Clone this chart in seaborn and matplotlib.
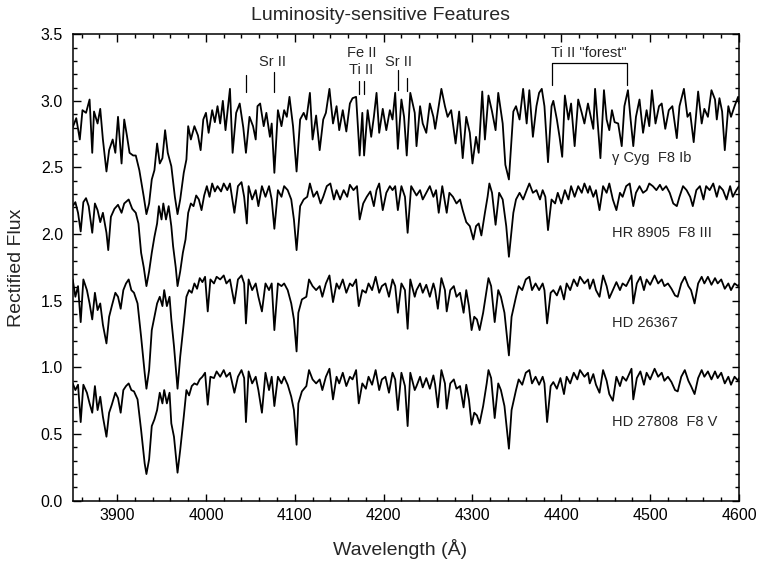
import matplotlib
matplotlib.use("Agg")
import matplotlib.pyplot as plt
from matplotlib.ticker import MultipleLocator, FormatStrFormatter
import pandas as pd
import seaborn as sns

# ---------------------------------------------------------------------------
# Spectra (rectified flux, stacked with vertical offsets as displayed)
# ---------------------------------------------------------------------------
wl_gcyg = [
    3850, 3854, 3858, 3861, 3865, 3869, 3872, 3874, 3878, 3881, 3884, 3888,
    3891, 3895, 3898, 3901, 3905, 3908, 3911, 3914, 3918, 3921, 3925, 3930,
    3933, 3936, 3939, 3942, 3945, 3948, 3951, 3954, 3957, 3961, 3965, 3968,
    3971, 3975, 3978, 3980, 3983, 3987, 3991, 3994, 3997, 4000, 4003, 4007,
    4010, 4013, 4016, 4019, 4022, 4027, 4030, 4034, 4038, 4042, 4045, 4049,
    4053, 4056, 4058, 4061, 4065, 4068, 4072, 4074, 4077, 4081, 4085, 4088,
    4091, 4094, 4098, 4102, 4106, 4110, 4113, 4117, 4120, 4124, 4128, 4132,
    4135, 4139, 4143, 4147, 4150, 4154, 4158, 4162, 4165, 4169, 4173, 4176,
    4178, 4182, 4186, 4189, 4192, 4195, 4199, 4203, 4207, 4210, 4213, 4216,
    4220, 4223, 4226, 4230, 4235, 4237, 4241, 4244, 4248, 4252, 4256, 4258,
    4261, 4265, 4269, 4272, 4276, 4281, 4285, 4289, 4293, 4297, 4300, 4304,
    4307, 4311, 4314, 4318, 4322, 4326, 4329, 4334, 4337, 4341, 4344, 4346,
    4349, 4353, 4357, 4361, 4364, 4368, 4372, 4375, 4378, 4381, 4385, 4389,
    4391, 4395, 4398, 4401, 4404, 4408, 4411, 4415, 4419, 4423, 4426, 4430,
    4436, 4438, 4441, 4444, 4448, 4451, 4454, 4457, 4460, 4464, 4468, 4471,
    4475, 4478, 4481, 4484, 4488, 4492, 4496, 4499, 4502, 4506, 4510, 4513,
    4517, 4521, 4525, 4530, 4533, 4538, 4542, 4545, 4549, 4554, 4558, 4561,
    4565, 4569, 4573, 4575, 4578, 4581, 4584, 4588, 4591, 4595, 4599, 4600,
]
flux_gcyg = [
    2.80, 2.87, 2.71, 2.93, 2.91, 3.01, 2.61, 2.92, 2.83, 2.94, 2.71, 2.47,
    2.63, 2.71, 2.61, 2.88, 2.53, 2.86, 2.74, 2.61, 2.59, 2.59, 2.48, 2.28,
    2.15, 2.23, 2.41, 2.48, 2.68, 2.53, 2.57, 2.78, 2.61, 2.51, 2.28, 2.15,
    2.26, 2.46, 2.56, 2.81, 2.71, 2.81, 2.74, 2.63, 2.86, 2.91, 2.76, 2.93,
    2.84, 2.96, 2.83, 3.00, 2.78, 3.09, 2.61, 2.91, 2.98, 2.80, 2.61, 2.88,
    2.81, 2.71, 2.96, 2.98, 2.81, 2.91, 2.73, 2.83, 2.46, 2.93, 2.81, 2.93,
    2.88, 3.03, 2.81, 2.47, 2.86, 2.91, 2.86, 3.06, 2.71, 2.89, 2.63, 2.86,
    2.91, 3.09, 2.83, 2.96, 2.78, 2.93, 2.77, 2.98, 3.02, 3.03, 2.59, 2.91,
    2.59, 2.93, 2.73, 2.88, 3.06, 2.76, 2.94, 2.78, 2.93, 2.86, 3.06, 2.64,
    3.01, 2.88, 2.59, 3.06, 2.91, 2.66, 2.96, 2.83, 2.76, 2.98, 2.88, 2.79,
    2.92, 3.09, 2.96, 2.88, 2.93, 2.68, 2.92, 2.57, 2.88, 2.76, 2.53, 2.73,
    2.61, 3.07, 2.71, 3.04, 2.92, 2.78, 3.06, 2.83, 2.52, 2.41, 2.71, 2.92,
    2.96, 2.86, 3.09, 2.83, 3.08, 2.73, 2.96, 3.06, 3.09, 2.96, 2.54, 2.96,
    3.00, 2.86, 2.73, 2.58, 3.04, 2.86, 2.98, 2.66, 3.01, 2.91, 2.83, 2.98,
    2.79, 3.09, 2.83, 2.57, 3.08, 2.86, 2.78, 2.93, 2.84, 2.83, 2.66, 2.96,
    3.08, 2.86, 2.66, 2.88, 3.01, 2.76, 2.93, 2.81, 3.08, 2.83, 2.96, 2.98,
    2.79, 2.93, 2.96, 2.72, 2.96, 3.09, 2.88, 2.91, 2.69, 3.07, 2.83, 2.94,
    2.88, 3.08, 3.01, 2.86, 3.02, 2.92, 2.63, 2.96, 2.88, 2.96, 3.03, 2.98,
]

wl_hr8905 = [
    3850, 3853, 3856, 3859, 3862, 3865, 3868, 3872, 3875, 3878, 3881, 3884,
    3888, 3890, 3893, 3897, 3901, 3905, 3908, 3913, 3917, 3921, 3924, 3927,
    3930, 3933, 3936, 3939, 3942, 3945, 3947, 3950, 3952, 3955, 3958, 3961,
    3963, 3966, 3968, 3971, 3974, 3977, 3980, 3983, 3986, 3989, 3992, 3995,
    3998, 4001, 4004, 4007, 4010, 4013, 4017, 4020, 4024, 4027, 4032, 4036,
    4040, 4043, 4046, 4048, 4052, 4056, 4059, 4063, 4067, 4071, 4074, 4077,
    4081, 4085, 4088, 4092, 4096, 4099, 4102, 4106, 4110, 4114, 4117, 4121,
    4125, 4129, 4132, 4136, 4140, 4144, 4147, 4151, 4155, 4159, 4162, 4166,
    4170, 4173, 4177, 4181, 4185, 4189, 4192, 4195, 4199, 4203, 4207, 4210,
    4213, 4216, 4220, 4224, 4227, 4231, 4237, 4241, 4244, 4248, 4252, 4256,
    4259, 4262, 4266, 4271, 4274, 4278, 4282, 4286, 4289, 4293, 4297, 4301,
    4304, 4307, 4310, 4314, 4317, 4319, 4322, 4326, 4330, 4334, 4338, 4341,
    4346, 4349, 4353, 4357, 4361, 4364, 4368, 4372, 4376, 4379, 4382, 4385,
    4389, 4393, 4396, 4400, 4404, 4408, 4411, 4415, 4419, 4423, 4426, 4430,
    4432, 4436, 4439, 4443, 4447, 4451, 4454, 4458, 4462, 4466, 4469, 4473,
    4477, 4481, 4484, 4488, 4492, 4496, 4499, 4503, 4507, 4511, 4514, 4518,
    4522, 4526, 4530, 4533, 4537, 4541, 4545, 4548, 4552, 4556, 4560, 4563,
    4567, 4571, 4575, 4578, 4582, 4586, 4590, 4593, 4597, 4600,
]
flux_hr8905 = [
    2.21, 2.24, 2.16, 2.02, 2.24, 2.27, 2.21, 2.01, 2.23, 2.18, 2.09, 2.16,
    2.01, 1.88, 2.13, 2.19, 2.22, 2.16, 2.23, 2.26, 2.19, 2.16, 2.08, 1.86,
    1.75, 1.61, 1.72, 1.86, 1.98, 2.08, 2.21, 2.11, 2.23, 2.11, 2.21, 2.06,
    1.91, 1.75, 1.61, 1.72, 1.86, 1.96, 2.16, 2.23, 2.21, 2.29, 2.26, 2.18,
    2.29, 2.36, 2.28, 2.38, 2.32, 2.36, 2.32, 2.38, 2.33, 2.38, 2.16, 2.36,
    2.39, 2.28, 2.08, 2.36, 2.26, 2.33, 2.21, 2.36, 2.28, 2.36, 2.26, 2.04,
    2.33, 2.28, 2.36, 2.33, 2.26, 2.11, 1.88, 2.21, 2.26, 2.28, 2.38, 2.28,
    2.32, 2.23, 2.28, 2.36, 2.38, 2.26, 2.33, 2.26, 2.33, 2.28, 2.37, 2.33,
    2.36, 2.11, 2.23, 2.28, 2.32, 2.21, 2.33, 2.38, 2.18, 2.31, 2.36, 2.33,
    2.36, 2.18, 2.36, 2.28, 2.01, 2.36, 2.29, 2.33, 2.26, 2.31, 2.36, 2.28,
    2.33, 2.16, 2.36, 2.16, 2.31, 2.28, 2.23, 2.26, 2.18, 2.09, 2.06, 1.96,
    2.06, 2.08, 1.99, 2.16, 2.28, 2.38, 2.31, 2.07, 2.31, 2.26, 2.06, 1.83,
    2.16, 2.26, 2.31, 2.26, 2.33, 2.38, 2.31, 2.33, 2.26, 2.33, 2.28, 2.03,
    2.26, 2.23, 2.31, 2.23, 2.33, 2.26, 2.36, 2.28, 2.36, 2.31, 2.38, 2.31,
    2.36, 2.28, 2.33, 2.18, 2.36, 2.31, 2.38, 2.26, 2.18, 2.31, 2.28, 2.36,
    2.38, 2.21, 2.31, 2.36, 2.31, 2.33, 2.38, 2.36, 2.33, 2.37, 2.33, 2.36,
    2.31, 2.23, 2.21, 2.28, 2.36, 2.33, 2.28, 2.21, 2.33, 2.36, 2.26, 2.36,
    2.33, 2.38, 2.28, 2.36, 2.33, 2.26, 2.36, 2.28, 2.33, 2.36,
]

# The two dwarfs share one wavelength sampling
wl_dwarf = [
    3850, 3853, 3856, 3859, 3862, 3866, 3869, 3872, 3875, 3878, 3881, 3884,
    3888, 3891, 3894, 3898, 3901, 3904, 3907, 3910, 3913, 3916, 3919, 3923,
    3927, 3931, 3933, 3936, 3939, 3942, 3945, 3948, 3951, 3953, 3956, 3959,
    3961, 3964, 3968, 3971, 3975, 3978, 3981, 3984, 3987, 3990, 3993, 3996,
    3999, 4002, 4005, 4009, 4012, 4016, 4020, 4023, 4027, 4032, 4036, 4040,
    4043, 4045,
    4048, 4052, 4056, 4059, 4063, 4067, 4071, 4074, 4077, 4081, 4085, 4088,
    4092, 4096, 4099, 4102, 4104, 4108, 4113, 4116, 4120, 4124, 4128, 4131,
    4135, 4139, 4143, 4147, 4150, 4154, 4158, 4162, 4165, 4169, 4172, 4176,
    4180, 4183, 4187, 4191, 4195, 4198, 4202, 4206, 4210, 4213, 4216, 4220,
    4224, 4227, 4230, 4235,
    4237, 4241, 4244, 4248, 4252, 4256, 4258, 4261, 4265, 4269, 4271, 4275,
    4279, 4282, 4286, 4290, 4293, 4296, 4299, 4302, 4305, 4308, 4312, 4316,
    4318, 4321, 4325, 4329, 4332, 4336, 4341, 4344, 4349, 4352, 4356, 4360,
    4364, 4367, 4371, 4375, 4379, 4381, 4384, 4388, 4391, 4395, 4399, 4403,
    4406, 4410, 4414, 4418, 4421, 4426, 4430,
    4432, 4436, 4439, 4443, 4447, 4451, 4454, 4458, 4462, 4466, 4469, 4473,
    4479, 4481, 4485, 4489, 4493, 4496, 4500, 4505, 4509, 4513, 4516, 4520,
    4524, 4528, 4531, 4535, 4539, 4543, 4546, 4550, 4554, 4558, 4561, 4565,
    4569, 4573, 4576, 4580, 4584, 4588, 4591, 4595, 4599, 4600,
]
flux_hd26367 = [
    1.66, 1.53, 1.61, 1.34, 1.66, 1.58, 1.48, 1.36, 1.56, 1.43, 1.48, 1.32,
    1.18, 1.38, 1.46, 1.56, 1.53, 1.44, 1.58, 1.63, 1.66, 1.58, 1.56, 1.48,
    1.23, 0.96, 0.84, 0.98, 1.28, 1.38, 1.48, 1.53, 1.46, 1.58, 1.46, 1.53,
    1.36, 1.16, 0.84, 1.08, 1.33, 1.53, 1.58, 1.56, 1.63, 1.59, 1.67, 1.64,
    1.68, 1.42, 1.66, 1.63, 1.68, 1.66, 1.69, 1.63, 1.66, 1.48, 1.66, 1.69,
    1.63, 1.33,
    1.66, 1.58, 1.63, 1.53, 1.42, 1.63, 1.58, 1.63, 1.28, 1.63, 1.61, 1.63,
    1.58, 1.48, 1.36, 1.12, 1.41, 1.51, 1.53, 1.66, 1.61, 1.58, 1.61, 1.53,
    1.63, 1.69, 1.49, 1.63, 1.59, 1.66, 1.56, 1.63, 1.61, 1.66, 1.46, 1.58,
    1.56, 1.63, 1.58, 1.68, 1.56, 1.61, 1.63, 1.53, 1.66, 1.61, 1.41, 1.63,
    1.58, 1.29, 1.66, 1.53,
    1.58, 1.63, 1.56, 1.62, 1.53, 1.63, 1.58, 1.44, 1.67, 1.58, 1.42, 1.58,
    1.61, 1.53, 1.56, 1.41, 1.58, 1.46, 1.28, 1.38, 1.36, 1.28, 1.41, 1.58,
    1.67, 1.61, 1.34, 1.58, 1.53, 1.41, 1.09, 1.38, 1.53, 1.61, 1.58, 1.66,
    1.68, 1.58, 1.63, 1.58, 1.63, 1.58, 1.33, 1.56, 1.58, 1.54, 1.61, 1.51,
    1.63, 1.58, 1.66, 1.61, 1.68, 1.63, 1.66,
    1.59, 1.66, 1.58, 1.53, 1.69, 1.61, 1.52, 1.58, 1.64, 1.58, 1.63, 1.61,
    1.69, 1.48, 1.63, 1.68, 1.58, 1.66, 1.62, 1.69, 1.63, 1.66, 1.61, 1.63,
    1.59, 1.54, 1.53, 1.63, 1.68, 1.61, 1.58, 1.48, 1.63, 1.68, 1.63, 1.68,
    1.62, 1.67, 1.63, 1.66, 1.59, 1.63, 1.58, 1.63, 1.61, 1.62,
]
flux_hd27808 = [
    0.88, 0.83, 0.87, 0.59, 0.87, 0.81, 0.73, 0.66, 0.86, 0.68, 0.78, 0.63,
    0.48, 0.66, 0.72, 0.81, 0.77, 0.66, 0.83, 0.86, 0.88, 0.83, 0.82, 0.76,
    0.53, 0.28, 0.20, 0.31, 0.56, 0.61, 0.68, 0.81, 0.73, 0.83, 0.73, 0.81,
    0.58, 0.48, 0.21, 0.38, 0.63, 0.83, 0.79, 0.86, 0.88, 0.87, 0.91, 0.93,
    0.96, 0.72, 0.93, 0.92, 0.97, 0.93, 0.98, 0.93, 0.96, 0.81, 0.93, 0.98,
    0.92, 0.59,
    0.97, 0.88, 0.93, 0.83, 0.66, 0.96, 0.83, 0.93, 0.71, 0.93, 0.88, 0.93,
    0.87, 0.78, 0.68, 0.42, 0.73, 0.82, 0.86, 0.98, 0.91, 0.88, 0.91, 0.83,
    0.93, 0.99, 0.76, 0.93, 0.88, 0.96, 0.86, 0.93, 0.91, 0.98, 0.73, 0.88,
    0.84, 0.93, 0.87, 0.98, 0.83, 0.91, 0.93, 0.81, 0.96, 0.91, 0.68, 0.96,
    0.86, 0.56, 0.96, 0.83,
    0.86, 0.93, 0.85, 0.92, 0.84, 0.94, 0.87, 0.70, 0.98, 0.88, 0.69, 0.88,
    0.91, 0.84, 0.86, 0.70, 0.87, 0.76, 0.57, 0.66, 0.64, 0.58, 0.71, 0.88,
    0.98, 0.92, 0.62, 0.88, 0.83, 0.71, 0.39, 0.68, 0.83, 0.91, 0.87, 0.96,
    0.98, 0.88, 0.93, 0.87, 0.93, 0.88, 0.59, 0.86, 0.89, 0.84, 0.92, 0.80,
    0.93, 0.88, 0.96, 0.91, 0.98, 0.93, 0.96,
    0.88, 0.95, 0.87, 0.81, 0.98, 0.90, 0.80, 0.75, 0.93, 0.86, 0.93, 0.90,
    0.99, 0.76, 0.92, 0.97, 0.87, 0.96, 0.91, 0.99, 0.93, 0.96, 0.90, 0.93,
    0.89, 0.83, 0.82, 0.93, 0.98, 0.90, 0.86, 0.80, 0.92, 0.98, 0.93, 0.97,
    0.91, 0.97, 0.92, 0.96, 0.88, 0.93, 0.87, 0.93, 0.90, 0.92,
]

star_names = ["\u03b3 Cyg  F8 Ib", "HR 8905  F8 III", "HD 26367", "HD 27808  F8 V"]
star_label_y = [2.57, 2.01, 1.33, 0.59]

# Line identifications
tick_lines = [4045, 4077, 4172, 4178, 4216, 4226]
tick_bottom = [3.067, 3.068, 3.051, 3.051, 3.081, 3.076]
tick_top = [3.194, 3.218, 3.151, 3.151, 3.231, 3.171]
id_labels = ["Sr II", "Fe II", "Ti II", "Sr II"]
id_x = [4075, 4175, 4175, 4217]
id_y = [3.29, 3.36, 3.23, 3.29]
forest_range = [4389, 4474]

# ---------------------------------------------------------------------------
frames = []
for name, wl, fx in [
    (star_names[0], wl_gcyg, flux_gcyg),
    (star_names[1], wl_hr8905, flux_hr8905),
    (star_names[2], wl_dwarf, flux_hd26367),
    (star_names[3], wl_dwarf, flux_hd27808),
]:
    frames.append(pd.DataFrame({"wavelength": wl, "flux": fx, "star": name}))
df = pd.concat(frames, ignore_index=True)

sns.set_theme(style="ticks")
plt.rcParams["font.family"] = ["Liberation Sans", "DejaVu Sans"]

W, H = 761, 564
fig = plt.figure(figsize=(W / 100, H / 100), dpi=100)
ax = fig.add_axes([72.7 / W, (H - 500.7) / H, (739 - 72.7) / W, (500.7 - 34.2) / H])

sns.lineplot(data=df, x="wavelength", y="flux", units="star", estimator=None,
             sort=False, color="black", linewidth=1.3, legend=False, ax=ax)

ax.set_xlim(3850, 4600)
ax.set_ylim(0, 3.5)
ax.xaxis.set_major_locator(MultipleLocator(100))
ax.xaxis.set_minor_locator(MultipleLocator(20))
ax.yaxis.set_major_locator(MultipleLocator(0.5))
ax.yaxis.set_minor_locator(MultipleLocator(0.1))
ax.yaxis.set_major_formatter(FormatStrFormatter("%.1f"))
ax.tick_params(which="both", direction="in", top=True, right=True,
               color="black", width=1.0, labelsize=11.5, labelcolor="black")
ax.tick_params(which="major", length=5.4)
ax.tick_params(which="minor", length=3.2)
ax.tick_params(axis="x", which="major", pad=5)
ax.tick_params(axis="y", which="major", pad=7)
for sp in ax.spines.values():
    sp.set_color("black")
    sp.set_linewidth(1.1)
ax.set_xlabel("")
ax.set_ylabel("")

# feature marks
for x0, y0, y1 in zip(tick_lines, tick_bottom, tick_top):
    ax.plot([x0, x0], [y0, y1], color="black", lw=0.9)
for txt, x0, y0 in zip(id_labels, id_x, id_y):
    ax.text(x0, y0, txt, ha="center", va="center", fontsize=10.5)
ax.plot([forest_range[0], forest_range[0], forest_range[1], forest_range[1]],
        [3.119, 3.281, 3.281, 3.119], color="black", lw=0.9)
ax.text(sum(forest_range) / 2, 3.36, 'Ti II "forest"', ha="center",
        va="center", fontsize=10.5)

for name, yy in zip(star_names, star_label_y):
    ax.text(4456.6, yy, name, ha="left", va="center", fontsize=10.5)

fig.text(0.5, 1 - 15 / H, "Luminosity-sensitive Features", ha="center",
         va="center", fontsize=14)
fig.text(400 / W, 1 - 549 / H, "Wavelength (\u00c5)", ha="center",
         va="center", fontsize=14)
fig.text(17 / W, 1 - 268 / H, "Rectified Flux", ha="center", va="center",
         rotation=90, fontsize=14)

fig.savefig("out.png", dpi=100, facecolor="white")
